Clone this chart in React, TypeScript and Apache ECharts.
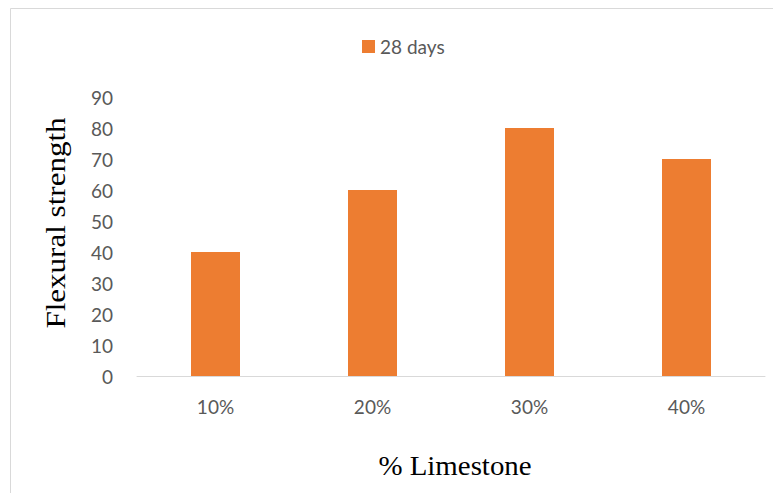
import React, { useEffect, useRef } from "react";
import * as echarts from "echarts";

const categories = ["10%", "20%", "30%", "40%"];
const values28 = [40, 60, 80, 70];
const seriesName = "28 days";
const yTitle = "Flexural strength";
const xTitle = "% Limestone";

const labelFont = 'Lato, "Open Sans", sans-serif';
const titleFont = '"Liberation Serif", "Times New Roman", serif';

export default function App() {
  const ref = useRef<HTMLDivElement>(null);
  useEffect(() => {
    if (!ref.current) return;
    const chart = echarts.init(ref.current, null, { renderer: "svg" });
    chart.setOption({
      animation: false,
      backgroundColor: "#ffffff",
      graphic: [
        {
          type: "rect",
          shape: { x: 10.5, y: 8.5, width: 800, height: 600 },
          style: { fill: "none", stroke: "#d9d9d9", lineWidth: 1 },
          silent: true,
        },
        {
          type: "text",
          x: 56,
          y: 223,
          rotation: Math.PI / 2,
          scaleX: 1.15,
          style: {
            text: yTitle,
            font: `27px ${titleFont}`,
            fill: "#000000",
            align: "center",
            verticalAlign: "middle",
          },
        },
        {
          type: "text",
          x: 455,
          y: 466,
          scaleX: 1.07,
          style: {
            text: xTitle,
            font: `27px ${titleFont}`,
            fill: "#000000",
            align: "center",
            verticalAlign: "middle",
          },
        },
      ],
      legend: {
        data: [seriesName],
        top: 32,
        left: 357,
        itemWidth: 13,
        itemHeight: 13,
        icon: "rect",
        textStyle: {
          fontFamily: labelFont,
          fontSize: 19,
          color: "#595959",
        },
      },
      grid: { left: 137, right: 8, top: 97, bottom: 117 },
      xAxis: {
        type: "category",
        data: categories,
        boundaryGap: true,
        axisLine: { show: true, lineStyle: { color: "#d9d9d9", width: 1 } },
        axisTick: { show: false },
        axisLabel: {
          margin: 21,
          fontFamily: labelFont,
          fontSize: 19,
          color: "#595959",
        },
      },
      yAxis: {
        type: "value",
        min: 0,
        max: 90,
        interval: 10,
        axisLine: { show: false },
        axisTick: { show: false },
        splitLine: { show: false },
        axisLabel: {
          margin: 24,
          fontFamily: labelFont,
          fontSize: 19,
          color: "#595959",
        },
      },
      series: [
        {
          name: seriesName,
          type: "bar",
          data: values28,
          barWidth: 49,
          itemStyle: { color: "#ed7d31" },
        },
      ],
    });
    return () => chart.dispose();
  }, []);
  return (
    <div
      ref={ref}
      style={{ position: "fixed", left: 0, top: 0, width: 773, height: 493 }}
    />
  );
}
